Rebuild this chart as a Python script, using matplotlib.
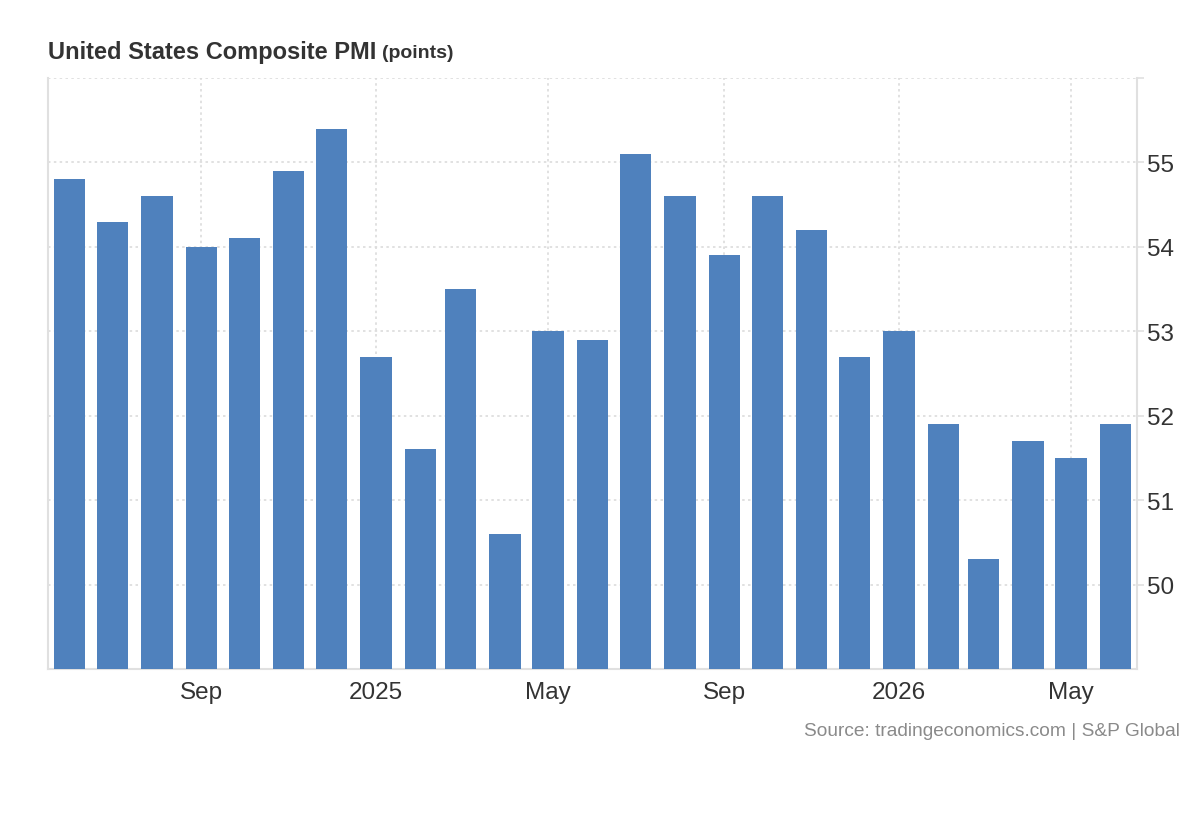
import pandas as pd
import numpy as np
import matplotlib.pyplot as plt
import matplotlib.dates as mdates

plt.rcParams['font.family'] = ['Liberation Sans', 'DejaVu Sans']

# ----------------------------
# Data
# ----------------------------
months = pd.date_range("2024-06-01", "2026-06-01", freq="MS")
pmi = [54.8, 54.3, 54.6, 54.0, 54.1, 54.9, 55.4, 52.7, 51.6, 53.5, 50.6, 53.0,
       52.9, 55.1, 54.6, 53.9, 54.6, 54.2, 52.7, 53.0, 51.9, 50.3, 51.7, 51.5, 51.9]
xtick_dates = pd.to_datetime(["2024-09-01", "2025-01-01", "2025-05-01",
                              "2025-09-01", "2026-01-01", "2026-05-01"])
xtick_labels = ["Sep", "2025", "May", "Sep", "2026", "May"]
ytick_values = [50, 51, 52, 53, 54, 55, 56]
ytick_labels = ["50", "51", "52", "53", "54", "55", ""]

bar_color = "#4f81bd"
grid_color = "#dcdcdc"
axis_color = "#e0e0e0"
text_color = "#333333"

# ----------------------------
# Plot
# ----------------------------
fig = plt.figure(figsize=(12, 8.2), dpi=100)
ax = fig.add_axes([48 / 1200, 150 / 820, 1089 / 1200, 591 / 820])

ax.bar(months, [v - 49 for v in pmi], bottom=49, width=22,
       color=bar_color, zorder=3)

ax.set_xlim(months[0] - pd.Timedelta(days=15), months[-1] + pd.Timedelta(days=15))
ax.set_ylim(49, 56)

ax.set_xticks(xtick_dates)
ax.set_xticklabels(xtick_labels)
ax.set_yticks(ytick_values)
ax.set_yticklabels(ytick_labels)

ax.yaxis.tick_right()
ax.tick_params(axis="x", length=0, pad=9, labelsize=17.5, labelcolor=text_color)
ax.tick_params(axis="y", length=5, width=1.2, color=axis_color, pad=2,
               labelsize=17.5, labelcolor=text_color)

ax.grid(True, color=grid_color, linestyle=(0, (1.5, 2)), linewidth=1.2, zorder=0)

for side in ["left", "right", "bottom"]:
    ax.spines[side].set_color(axis_color)
    ax.spines[side].set_linewidth(1.5)
ax.spines["top"].set_visible(False)

# ----------------------------
# Title and source
# ----------------------------
t = fig.text(48 / 1200, (820 - 52) / 820, "United States Composite PMI",
             fontsize=17, fontweight="bold", color=text_color, va="center")
fig.canvas.draw()
bb = t.get_window_extent()
fig.text((bb.x1 + 6) / 1200, (820 - 53) / 820, "(points)",
         fontsize=14, fontweight="bold", color=text_color, va="center")

fig.text(1180 / 1200, (820 - 732) / 820,
         "Source: tradingeconomics.com | S&P Global",
         fontsize=13.8, color="#8a8a8a", ha="right", va="center")

fig.savefig("out.png", dpi=100)
